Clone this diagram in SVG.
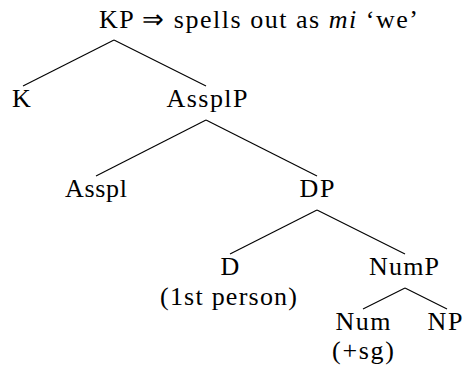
<svg xmlns="http://www.w3.org/2000/svg" width="464" height="370" viewBox="0 0 464 370">
<style>
.l{stroke:#000;stroke-width:1.1;fill:none}
</style>
<rect width="464" height="370" fill="#fff"/>
<g id="connectors">
<line class="l" x1="114" y1="40" x2="23" y2="86"/>
<line class="l" x1="114" y1="40" x2="206" y2="86"/>
<line class="l" x1="206" y1="120" x2="96" y2="176"/>
<line class="l" x1="206" y1="120" x2="317" y2="176"/>
<line class="l" x1="317" y1="210" x2="230" y2="254"/>
<line class="l" x1="317" y1="210" x2="405" y2="254"/>
<line class="l" x1="405" y1="288" x2="363" y2="309"/>
<line class="l" x1="405" y1="288" x2="447" y2="309"/>
</g>
<g font-family="Liberation Serif, Times New Roman, serif" font-size="26" fill="#000" text-anchor="middle">
<g id="KP"><text x="99" y="28" text-anchor="start" textLength="319" lengthAdjust="spacing">KP ⇒ spells out as <tspan font-style="italic">mi</tspan> ‘we’</text></g>
<g id="K"><text x="21.5" y="107">K</text></g>
<g id="AssplP"><text x="207" y="107" textLength="81" lengthAdjust="spacing">AssplP</text></g>
<g id="Asspl"><text x="96" y="197" textLength="62" lengthAdjust="spacing">Asspl</text></g>
<g id="DP"><text x="317" y="197" textLength="35" lengthAdjust="spacing">DP</text></g>
<g id="D"><text x="230" y="275">D</text><text x="228.5" y="305" textLength="137" lengthAdjust="spacing">(1st person)</text></g>
<g id="NumP"><text x="404" y="275" textLength="70" lengthAdjust="spacing">NumP</text></g>
<g id="Num"><text x="363" y="330" textLength="55" lengthAdjust="spacing">Num</text><text x="363" y="359" textLength="62" lengthAdjust="spacing">(+sg)</text></g>
<g id="NP"><text x="445" y="330" textLength="35" lengthAdjust="spacing">NP</text></g>
</g>
</svg>
